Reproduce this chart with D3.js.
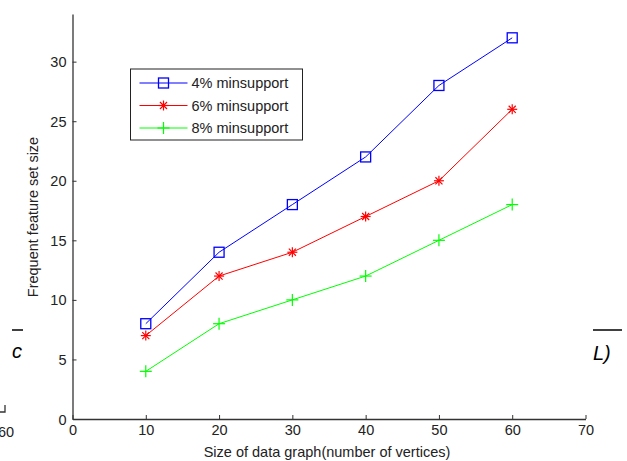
<!DOCTYPE html>
<html>
<head>
<meta charset="utf-8">
<script src="https://cdn.jsdelivr.net/npm/d3@7"></script>
<style>
	body { margin: 0; background: #fff; }
	text { font-family: "Liberation Sans", Arial, sans-serif; }
</style>
</head>
<body>
<div id="chart"></div>
<script>
// data
var sizes = [10, 20, 30, 40, 50, 60];
var sup4 = [8, 14, 18, 22, 28, 32];
var sup6 = [7, 12, 14, 17, 20, 26];
var sup8 = [4, 8, 10, 12, 15, 18];
var seriesNames = ["4% minsupport", "6% minsupport", "8% minsupport"];
var xTicks = [0, 10, 20, 30, 40, 50, 60, 70];
var yTicks = [0, 5, 10, 15, 20, 25, 30];

var w = 627, h = 461;
var margin = {left: 72.5, right: 41.5, top: 14, bottom: 42};
var fontSize = "14.5px";

var series = [
	{name: seriesNames[0], values: sup4, color: "#0000ff", marker: "square"},
	{name: seriesNames[1], values: sup6, color: "#ff0000", marker: "star"},
	{name: seriesNames[2], values: sup8, color: "#00ff00", marker: "plus"}
];

var svg = d3.select("#chart").append("svg")
	.attr("width", w)
	.attr("height", h);

var x = d3.scaleLinear().domain([0, 70]).range([margin.left, w - margin.right]);
var y = d3.scaleLinear().domain([0, 34]).range([h - margin.bottom, margin.top]);

// axes, ticks pointing inward like matlab
var xAxis = svg.append("g")
	.attr("transform", "translate(0," + y(0) + ")")
	.call(d3.axisBottom(x).tickValues(xTicks).tickSizeInner(-4).tickSizeOuter(0).tickPadding(6));
var yAxis = svg.append("g")
	.attr("transform", "translate(" + x(0) + ",0)")
	.call(d3.axisLeft(y).tickValues(yTicks).tickSizeInner(-4).tickSizeOuter(0).tickPadding(6));

[xAxis, yAxis].forEach(function(a) {
	a.select(".domain").attr("stroke", "#333").attr("stroke-width", 1.3);
	a.selectAll(".tick line").attr("stroke", "#333");
	a.selectAll(".tick text")
		.attr("font-family", "Liberation Sans, Arial, sans-serif")
		.attr("font-size", fontSize)
		.attr("fill", "#222");
});
yAxis.selectAll(".tick text").attr("dy", "0.35em");

svg.append("text")
	.attr("x", 327)
	.attr("y", 457)
	.attr("text-anchor", "middle")
	.attr("font-size", fontSize)
	.attr("fill", "#222")
	.text("Size of data graph(number of vertices)");

svg.append("text")
	.attr("transform", "translate(38,217) rotate(-90)")
	.attr("text-anchor", "middle")
	.attr("font-size", fontSize)
	.attr("fill", "#222")
	.text("Frequent feature set size");

function drawMarker(g, type, color) {
	if (type == "square") {
		g.append("rect")
			.attr("x", -5).attr("y", -5)
			.attr("width", 10).attr("height", 10)
			.attr("fill", "none")
			.attr("stroke", color)
			.attr("stroke-width", 1.3);
	} else if (type == "star") {
		[0, 45, 90, 135].forEach(function(a) {
			g.append("line")
				.attr("x1", -5).attr("x2", 5)
				.attr("y1", 0).attr("y2", 0)
				.attr("transform", "rotate(" + a + ")")
				.attr("stroke", color)
				.attr("stroke-width", 1.2);
		});
	} else {
		g.append("line").attr("x1", -6).attr("x2", 6).attr("y1", 0).attr("y2", 0)
			.attr("stroke", color).attr("stroke-width", 1.2);
		g.append("line").attr("x1", 0).attr("x2", 0).attr("y1", -6).attr("y2", 6)
			.attr("stroke", color).attr("stroke-width", 1.2);
	}
}

var line = d3.line()
	.x(function(d, i) { return x(sizes[i]); })
	.y(function(d) { return y(d); });

series.forEach(function(s) {
	svg.append("path")
		.attr("d", line(s.values))
		.attr("fill", "none")
		.attr("stroke", s.color)
		.attr("stroke-width", 1);

	svg.selectAll(null)
		.data(s.values)
		.enter().append("g")
		.attr("transform", function(d, i) {
			return "translate(" + x(sizes[i]) + "," + y(d) + ")";
		})
		.each(function() { drawMarker(d3.select(this), s.marker, s.color); });
});

// legend
var legend = svg.append("g").attr("transform", "translate(130.5,69)");
legend.append("rect")
	.attr("width", 172)
	.attr("height", 71)
	.attr("fill", "#fff")
	.attr("stroke", "#222")
	.attr("stroke-width", 1);

series.forEach(function(s, i) {
	var row = legend.append("g").attr("transform", "translate(0," + (14 + i * 22.5) + ")");
	row.append("line")
		.attr("x1", 9).attr("x2", 57)
		.attr("stroke", s.color)
		.attr("stroke-width", 1);
	var m = row.append("g").attr("transform", "translate(33,0)");
	drawMarker(m, s.marker, s.color);
	row.append("text")
		.attr("x", 61)
		.attr("dy", "0.35em")
		.attr("font-size", fontSize)
		.attr("fill", "#222")
		.text(s.name);
});

// bits of the surrounding page that were cropped into the picture
svg.append("line").attr("x1", 12).attr("x2", 23).attr("y1", 330).attr("y2", 330)
	.attr("stroke", "#000").attr("stroke-width", 1.5);
svg.append("text").attr("x", 12).attr("y", 358)
	.attr("font-family", "Liberation Serif, serif").attr("font-style", "italic")
	.attr("font-size", "20px").text("c");
svg.append("line").attr("x1", 593).attr("x2", 622).attr("y1", 330).attr("y2", 330)
	.attr("stroke", "#000").attr("stroke-width", 1.5);
svg.append("text").attr("x", 593).attr("y", 360)
	.attr("font-family", "Liberation Serif, serif").attr("font-style", "italic")
	.attr("font-size", "20px").text("L)");
svg.append("path").attr("d", "M5,405V412H0")
	.attr("fill", "none").attr("stroke", "#333").attr("stroke-width", 1.3);
svg.append("text").attr("x", -2).attr("y", 437)
	.attr("font-size", fontSize).attr("fill", "#222").text("60");
</script>
</body>
</html>
